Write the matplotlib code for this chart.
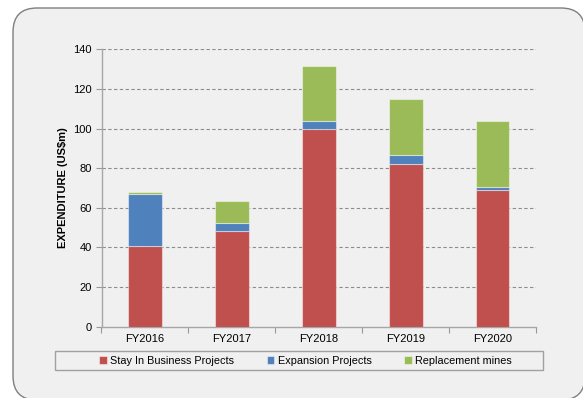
import matplotlib
matplotlib.use("Agg")
import matplotlib.pyplot as plt
from matplotlib.patches import FancyBboxPatch, Rectangle
from matplotlib.transforms import IdentityTransform
import numpy as np

plt.rcParams['font.family'] = ['Liberation Sans', 'DejaVu Sans']

years = ["FY2016", "FY2017", "FY2018", "FY2019", "FY2020"]
stay_in_business = [40.5, 48.5, 100.0, 82.0, 69.0]
expansion = [26.5, 4.0, 3.8, 4.5, 1.5]
replacement = [1.0, 10.8, 27.7, 28.5, 33.5]
yticks = [0, 20, 40, 60, 80, 100, 120, 140]

c_red = "#C0504D"
c_blue = "#4F81BD"
c_green = "#9BBB59"
bg = "#F0F0F0"

W, H = 583, 398
fig = plt.figure(figsize=(W / 100, H / 100), dpi=100, facecolor="white")

# rounded panel behind the chart (pixel coordinates)
panel = FancyBboxPatch((13, H - 400), 572, 392,
                       boxstyle="round,pad=0,rounding_size=24",
                       transform=IdentityTransform(),
                       facecolor=bg, edgecolor="#7F7F7F", linewidth=1.0, zorder=-2)
fig.patches.append(panel)

ax = fig.add_axes([101.5 / W, (H - 326.7) / H, 434.5 / W, 277.4 / H])
ax.set_facecolor("none")

x = np.arange(len(years))
w = 0.39
s = np.array(stay_in_business)
e = np.array(expansion)
r = np.array(replacement)
edge = dict(edgecolor=(1, 1, 1, 0.45), linewidth=0.8)
ax.bar(x, s, w, color=c_red, label="Stay In Business Projects", zorder=3, **edge)
ax.bar(x, e, w, bottom=s, color=c_blue, label="Expansion Projects", zorder=3, **edge)
ax.bar(x, r, w, bottom=s + e, color=c_green, label="Replacement mines", zorder=3, **edge)

ax.set_xlim(-0.5, len(years) - 0.5)
ax.set_ylim(0, 140)
ax.set_yticks(yticks)
ax.tick_params(axis='y', labelsize=8, length=4, width=0.8, color="#999999", pad=3)
ax.set_xticks(x)
ax.set_xticklabels(years)
ax.tick_params(axis='x', which='major', labelsize=8, length=0, pad=5)
ax.set_xticks(np.arange(-0.5, len(years)), minor=True)
ax.tick_params(axis='x', which='minor', length=4, width=0.8, color="#999999")

for yv in yticks[1:]:
    ax.axhline(yv, color="#8C8C8C", linestyle=(0, (3, 2.2)), linewidth=0.8, zorder=1)

for side in ("top", "right"):
    ax.spines[side].set_visible(False)
for side in ("left", "bottom"):
    ax.spines[side].set_color("#A6A6A6")
    ax.spines[side].set_linewidth(1.0)

ax.set_ylabel("EXPENDITURE (US$m)", fontsize=8, fontweight="bold", labelpad=4)

# legend strip
lx0, lx1, ly0, ly1 = 54.6, 543, 351, 370
fig.patches.append(Rectangle((lx0 / W, (H - ly1) / H), (lx1 - lx0) / W, (ly1 - ly0) / H,
                             transform=fig.transFigure, facecolor=bg,
                             edgecolor="#A0A0A0", linewidth=1.0, zorder=-1))
leg = fig.legend(loc="center", bbox_to_anchor=(305.5 / W, (H - (ly0 + ly1) / 2) / H),
                 ncol=3, frameon=False, fontsize=7.8, handlelength=0.7, handleheight=0.7,
                 handletextpad=0.3, columnspacing=3.0)

fig.savefig("out.png", dpi=100, facecolor="white")
